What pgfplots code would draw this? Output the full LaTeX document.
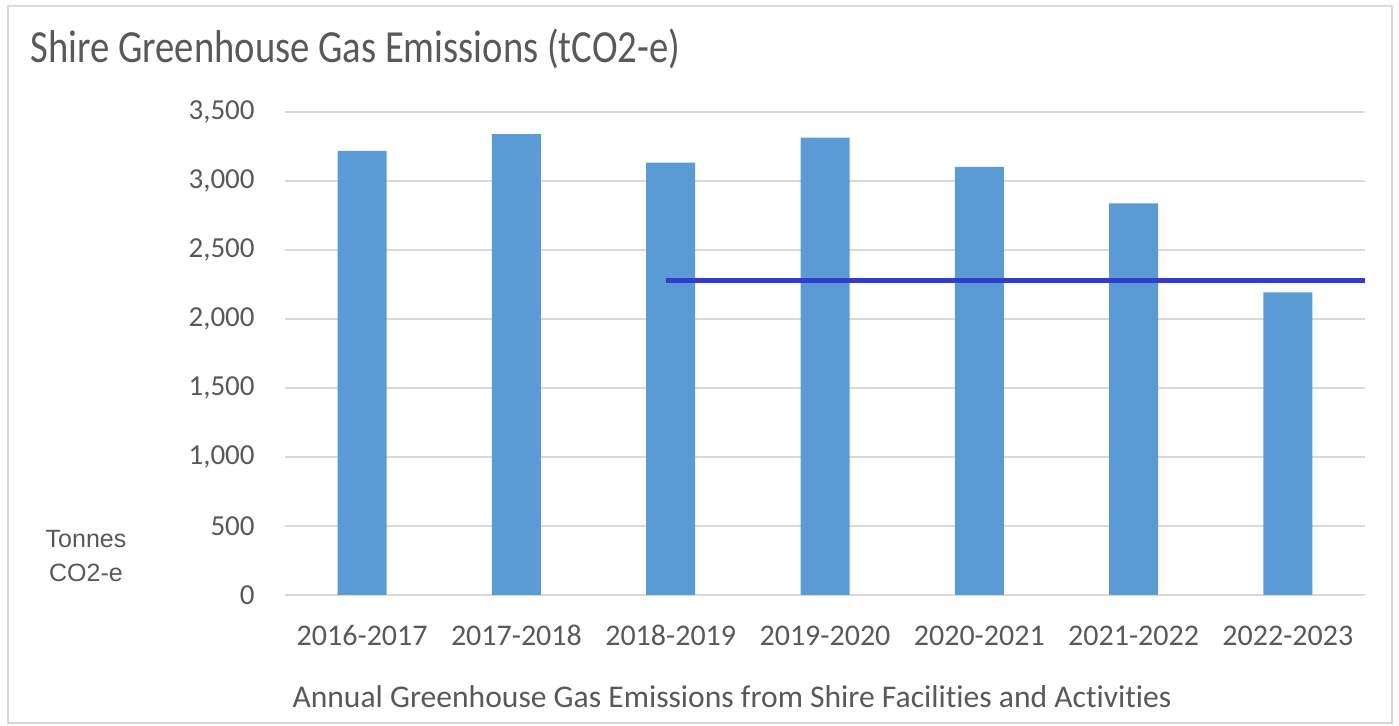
\documentclass[border=0pt]{standalone}
\usepackage{fontspec}
\setmainfont{Carlito}[Ligatures={NoCommon}]
\newfontfamily\titlefont[FakeStretch=0.84,Ligatures={NoCommon}]{Carlito}
\newfontfamily\arialfont{Liberation Sans}
\usepackage{pgfplots}
\pgfplotsset{compat=1.18}
\definecolor{barblue}{HTML}{5B9BD5}
\definecolor{lineblue}{RGB}{50,60,205}
\definecolor{txtgray}{HTML}{595959}
\definecolor{gridgray}{HTML}{D9D9D9}
\begin{document}
\begin{tikzpicture}
\useasboundingbox (0,0) rectangle (699.5pt,363pt);
\fill[white] (0,0) rectangle (699.5pt,363pt);
\draw[gridgray, line width=0.8pt] (4pt,1.5pt) rectangle (696pt,360pt);
\begin{axis}[
  at={(142.5pt,65.5pt)}, anchor=south west,
  scale only axis, width=540pt, height=241.5pt,
  xmin=-0.5, xmax=6.5, ymin=0, ymax=3500,
  xtick={0,1,2,3,4,5,6},
  xticklabels={2016-2017,2017-2018,2018-2019,2019-2020,2020-2021,2021-2022,2022-2023},
  ytick={0,500,1000,1500,2000,2500,3000,3500},
  ymajorgrids, grid style={gridgray, line width=0.65pt},
  axis line style={draw=none}, major tick length=0pt,
  /pgf/number format/.cd, assume math mode=true, 1000 sep={,}, fixed, /pgfplots/.cd,
  xticklabel style={anchor=base, yshift=-25.5pt, inner sep=0pt, text=txtgray, font=\fontsize{15}{18}\selectfont},
  yticklabel style={anchor=east, xshift=-15pt, inner sep=0pt, text=txtgray, font=\fontsize{14.5}{17}\selectfont},
  clip=false,
]
\addplot[ybar, bar width=24.5pt, fill=barblue, draw=none] coordinates {
  (0,3219) (1,3340) (2,3133) (3,3314) (4,3103) (5,2838) (6,2193)
};
\addplot[lineblue, line width=2.5pt, no markers] coordinates {(1.97,2280) (6.5,2280)};
\end{axis}
\node[anchor=base west, inner sep=0pt, text=txtgray, font=\titlefont\fontsize{23}{27}\selectfont] at (15pt,331.5pt) {Shire Greenhouse Gas Emissions (tCO2-e)};
\node[anchor=base, inner sep=0pt, text=txtgray, font=\fontsize{15.8}{19}\selectfont] at (366pt,9pt) {Annual Greenhouse Gas Emissions from Shire Facilities and Activities};
\node[anchor=base, inner sep=0pt, text=txtgray, font=\arialfont\fontsize{12.5}{15}\selectfont] at (43pt,89pt) {Tonnes};
\node[anchor=base, inner sep=0pt, text=txtgray, font=\arialfont\fontsize{12.5}{15}\selectfont] at (43pt,72pt) {CO2-e};
\end{tikzpicture}
\end{document}
